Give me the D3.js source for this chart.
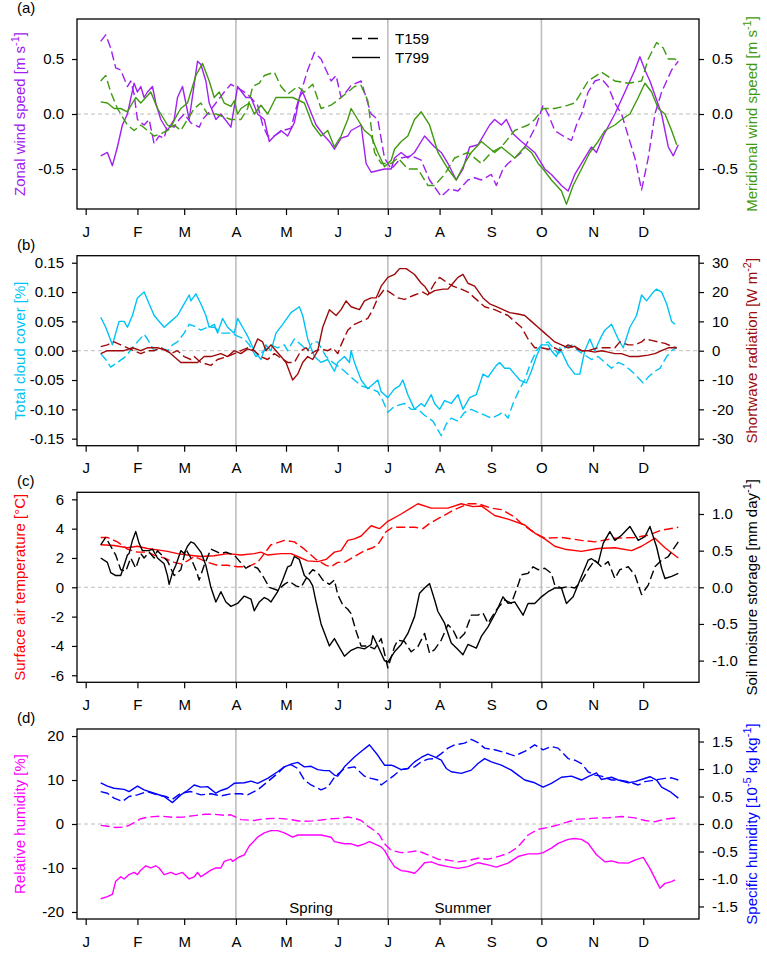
<!DOCTYPE html>
<html>
<head>
<meta charset="utf-8">
<script src="https://cdn.jsdelivr.net/npm/d3@7"></script>
<style>
body { margin: 0; background: #fff; }
svg { display: block; }
text { font-family: "Liberation Sans", Arial, Helvetica, sans-serif; }
</style>
</head>
<body>
<script>
// month ticks (day of year) and season separators
var monthDays = [0, 31, 59, 90, 120, 151, 181, 212, 243, 273, 304, 334];
var monthLabels = ["J", "F", "M", "A", "M", "J", "J", "A", "S", "O", "N", "D"];
var seasonDays = [90, 181, 273];
var seasonNames = [["Spring", 135], ["Summer", 226]];

// (a) zonal / meridional wind speed difference [m s-1], [day, value]
var zonalT159 = [[9,0.66],[12,0.72],[15,0.6],[18,0.42],[21,0.4],[25,0.25],[27,0.3],[29,0.18],[31,-0.05],[35,-0.1],[38,-0.05],[41,-0.27],[44,-0.2],[47,-0.22],[49,-0.1],[53,-0.12],[56,-0.05],[59,0.0],[63,-0.08],[68,-0.12],[70,-0.05],[73,0.0],[78,0.1],[83,0.2],[87,0.27],[93,0.22],[97,0.18],[103,0.08],[106,-0.1],[109,-0.2],[113,-0.2],[118,-0.15],[123,-0.13],[126,0.05],[129,0.2],[133,0.4],[137,0.56],[141,0.5],[144,0.4],[147,0.3],[150,0.35],[153,0.15],[156,0.2],[159,0.26],[165,0.3],[168,0.15],[171,0.0],[175,-0.05],[179,-0.4],[183,-0.5],[186,-0.45],[189,-0.4],[195,-0.38],[201,-0.42],[206,-0.6],[213,-0.75],[218,-0.68],[223,-0.7],[229,-0.6],[233,-0.58],[237,-0.6],[243,-0.55],[246,-0.65],[250,-0.5],[253,-0.45],[257,-0.4],[261,-0.35],[265,-0.25],[270,-0.1],[274,0.08],[277,0.0],[281,-0.15],[286,-0.2],[291,-0.24],[294,-0.1],[297,0.0],[301,0.2],[305,0.3],[309,0.32],[313,0.25],[317,0.1],[321,0.0],[325,-0.2],[329,-0.4],[333,-0.69],[337,-0.4],[341,0.0],[345,0.2],[351,0.4],[355,0.48]];
var zonalT799 = [[9,-0.38],[13,-0.35],[16,-0.47],[19,-0.3],[22,-0.1],[25,0.0],[29,0.28],[31,0.2],[33,0.25],[35,0.15],[37,0.2],[40,0.25],[42,0.1],[45,-0.05],[49,-0.15],[53,-0.05],[55,0.15],[58,0.25],[60,0.1],[62,-0.05],[67,0.48],[69,0.45],[72,0.3],[74,0.1],[78,-0.05],[81,0.0],[87,-0.12],[91,0.25],[96,0.15],[99,0.15],[103,0.0],[107,-0.05],[110,-0.25],[113,-0.2],[117,-0.15],[121,-0.2],[125,-0.08],[128,0.15],[130,0.2],[134,0.05],[138,-0.1],[143,-0.2],[146,-0.25],[149,-0.32],[153,-0.22],[157,-0.2],[159,-0.15],[165,-0.1],[168,-0.45],[171,-0.53],[179,-0.5],[183,-0.5],[185,-0.4],[189,-0.35],[193,-0.4],[197,-0.35],[203,-0.2],[209,-0.3],[213,-0.35],[217,-0.45],[222,-0.6],[226,-0.5],[230,-0.3],[235,-0.28],[242,-0.1],[245,-0.05],[249,-0.1],[252,-0.05],[256,-0.18],[261,-0.25],[265,-0.3],[269,-0.35],[275,-0.5],[279,-0.55],[285,-0.65],[289,-0.7],[293,-0.55],[297,-0.45],[303,-0.3],[306,-0.35],[310,-0.2],[317,0.0],[323,0.2],[329,0.4],[332,0.52],[335,0.4],[338,0.3],[345,0.0],[349,-0.3],[352,-0.38],[355,-0.28]];
var meridT159 = [[9,0.3],[12,0.35],[15,0.2],[19,0.05],[25,-0.1],[29,-0.15],[33,-0.1],[41,-0.2],[45,-0.18],[49,-0.15],[53,-0.1],[57,-0.15],[61,-0.05],[65,0.05],[69,0.1],[73,0.0],[78,0.0],[87,-0.05],[93,-0.05],[97,0.05],[100,0.25],[104,0.28],[107,0.35],[113,0.38],[117,0.25],[121,0.18],[127,0.25],[131,0.2],[136,0.27],[141,0.05],[147,0.08],[153,0.15],[161,0.25],[165,0.26],[169,0.12],[173,-0.35],[177,-0.45],[183,-0.45],[187,-0.4],[193,-0.5],[199,-0.5],[205,-0.65],[209,-0.65],[215,-0.55],[221,-0.4],[229,-0.35],[237,-0.45],[243,-0.35],[249,-0.3],[257,-0.15],[265,-0.1],[269,-0.05],[274,0.05],[281,0.05],[289,0.08],[293,0.1],[301,0.3],[309,0.38],[317,0.3],[325,0.28],[333,0.3],[337,0.5],[342,0.65],[346,0.6],[349,0.5],[353,0.5],[355,0.48]];
var meridT799 = [[9,0.11],[13,0.1],[17,0.05],[21,0.05],[25,0.02],[28,0.1],[30,0.15],[33,0.1],[39,0.2],[43,0.05],[49,-0.1],[51,-0.12],[55,0.0],[57,0.05],[61,0.1],[66,0.35],[70,0.46],[74,0.3],[77,0.15],[80,0.2],[83,0.1],[87,0.07],[89,0.12],[91,0.0],[93,0.05],[98,0.1],[101,0.0],[105,0.08],[109,0.0],[114,0.15],[119,0.15],[124,0.15],[131,0.1],[136,-0.1],[141,-0.2],[145,-0.15],[149,-0.3],[153,-0.2],[157,-0.05],[159,0.05],[163,-0.05],[167,-0.15],[171,-0.2],[175,-0.35],[179,-0.48],[183,-0.42],[185,-0.32],[189,-0.25],[193,-0.2],[197,-0.05],[201,0.02],[206,-0.1],[211,-0.35],[217,-0.5],[222,-0.6],[227,-0.45],[231,-0.35],[237,-0.25],[241,-0.3],[245,-0.35],[249,-0.3],[257,-0.4],[263,-0.3],[267,-0.35],[271,-0.45],[274,-0.5],[279,-0.6],[285,-0.7],[288,-0.82],[292,-0.65],[297,-0.5],[302,-0.35],[307,-0.25],[311,-0.15],[317,-0.1],[321,-0.05],[326,0.0],[331,0.15],[335,0.28],[339,0.2],[343,0.05],[347,0.0],[351,-0.15],[354,-0.28]];

// (b) total cloud cover [%] and shortwave radiation [W m-2]
var cloudT159 = [[9,-0.005],[12,-0.015],[15,-0.028],[19,-0.02],[24,-0.01],[28,0.005],[31,0.015],[35,0.028],[37,0.02],[41,0.0],[45,0.005],[49,0.0],[52,0.01],[55,0.015],[59,0.03],[62,0.045],[65,0.042],[69,0.035],[73,0.04],[77,0.04],[81,0.03],[87,0.03],[91,0.025],[95,0.02],[98,0.01],[102,-0.01],[107,0.0],[111,0.01],[115,0.005],[119,0.01],[121,0.0],[124,0.015],[125,0.02],[129,0.01],[133,0.0],[136,0.015],[139,0.015],[144,-0.01],[148,-0.02],[153,-0.03],[161,-0.05],[165,-0.06],[171,-0.065],[175,-0.07],[178,-0.085],[181,-0.105],[185,-0.095],[191,-0.09],[195,-0.1],[199,-0.1],[203,-0.11],[208,-0.12],[211,-0.135],[213,-0.145],[216,-0.125],[219,-0.115],[223,-0.12],[227,-0.105],[231,-0.1],[235,-0.105],[239,-0.11],[243,-0.115],[247,-0.11],[250,-0.105],[253,-0.115],[256,-0.09],[260,-0.065],[263,-0.05],[266,-0.025],[270,0.0],[273,0.01],[277,0.015],[280,0.005],[283,-0.005],[287,0.005],[292,0.01],[295,0.0],[303,-0.015],[307,-0.01],[311,-0.02],[315,-0.03],[319,-0.02],[323,-0.025],[329,-0.04],[334,-0.055],[337,-0.045],[341,-0.035],[344,-0.03],[348,-0.01],[351,0.0],[354,0.005]];
var cloudT799 = [[9,0.057],[12,0.04],[16,0.01],[20,0.05],[23,0.05],[25,0.04],[28,0.06],[31,0.09],[35,0.1],[38,0.08],[41,0.06],[47,0.04],[51,0.05],[55,0.06],[59,0.08],[62,0.095],[63,0.085],[66,0.097],[69,0.08],[72,0.06],[74,0.04],[77,0.045],[79,0.03],[82,0.055],[85,0.04],[89,0.03],[91,0.055],[94,0.04],[97,0.025],[101,0.0],[105,-0.015],[108,0.01],[111,0.0],[114,0.03],[118,0.045],[123,0.065],[128,0.075],[130,0.06],[133,0.02],[137,-0.01],[141,-0.02],[145,-0.015],[149,-0.035],[151,-0.02],[155,-0.01],[158,-0.02],[159,0.0],[161,-0.02],[165,-0.05],[169,-0.065],[175,-0.05],[177,-0.07],[181,-0.08],[185,-0.065],[188,-0.06],[190,-0.05],[193,-0.075],[197,-0.1],[201,-0.09],[203,-0.095],[207,-0.075],[209,-0.09],[212,-0.1],[215,-0.085],[219,-0.09],[223,-0.075],[226,-0.1],[230,-0.08],[234,-0.075],[238,-0.04],[241,-0.045],[246,-0.025],[248,-0.02],[251,-0.03],[254,-0.03],[257,-0.04],[260,-0.05],[264,-0.055],[267,-0.035],[270,-0.01],[273,0.01],[277,0.01],[279,0.0],[282,-0.01],[284,0.005],[289,-0.025],[293,-0.04],[296,-0.04],[299,0.0],[302,0.02],[305,0.0],[309,0.025],[311,0.035],[315,0.045],[319,0.02],[322,0.005],[326,0.04],[330,0.06],[333,0.095],[336,0.085],[340,0.1],[342,0.105],[345,0.1],[348,0.08],[351,0.05],[353,0.045]];
var swT159 = [[9,1.4],[13,2],[17,3],[21,2],[25,1],[29,0],[33,-1],[37,0],[41,0],[45,1],[51,-1],[55,0],[59,-2],[63,-3],[65,-2],[69,-4],[75,-5],[79,-3],[85,-2],[89,-1],[93,0],[97,1],[101,0],[105,-2],[109,-3],[113,-1],[121,-4],[125,-4],[129,0],[132,1],[135,-1],[138,0],[141,0.6],[145,0],[148,1],[151,-1],[153,2],[157,7],[161,9],[165,10],[169,11],[172,14],[175,18],[179,21],[182,20],[187,18],[191,17.5],[197,19],[202,20],[205,19],[209,23],[212,25],[217,23],[220,22],[225,21],[229,20],[235,17],[239,15],[245,14],[249,13],[253,12],[257,10],[261,8],[265,4],[269,1],[273,1],[277,0.5],[281,1],[284,0],[289,2],[293,1],[297,0],[301,0],[307,1],[313,1],[317,1],[320,3],[325,2],[329,2],[333,3],[335,4],[339,3.5],[343,3],[347,2.5],[351,1.5],[354,1]];
var swT799 = [[9,-1],[13,0],[18,0],[23,0],[28,1],[33,0],[37,1],[43,1],[49,0],[57,-4],[61,-4],[67,-4],[71,-2],[75,-2],[81,-1],[85,-2],[89,0],[93,-1],[97,0.6],[100,0],[103,4],[106,3],[108,0],[111,2],[114,0],[117,-2],[120,-4],[124,-10],[127,-8],[130,-4],[133,-2],[136,-3],[139,0],[142,8],[146,14],[150,12],[153,14],[156,17],[159,15],[164,14],[167,17],[171,18],[174,18],[177,22],[181,25],[185,26],[188,28],[192,28],[197,26],[201,23],[203,22],[206,19.5],[209,20.5],[214,21],[217,21],[220,23],[223,25],[226,26],[229,23],[233,22],[238,18],[242,16],[246,15],[250,14],[254,13],[259,12.5],[263,12],[267,10],[271,8],[275,6],[278,4.5],[281,3],[285,2],[289,1],[293,1.5],[297,0],[301,0],[305,-0.5],[309,0],[313,-0.5],[317,-1],[321,-1],[326,-2],[331,-2],[337,-1.5],[341,-1],[345,0],[349,1],[354,1]];

// (c) surface air temperature [degC] and soil moisture storage [mm day-1]
var tempT159 = [[9,3.4],[13,3.4],[19,3.1],[25,2.6],[31,2.4],[37,2.4],[41,2.2],[47,2.0],[53,1.7],[57,1.6],[61,1.8],[65,2.1],[69,1.9],[73,1.7],[79,1.5],[85,1.5],[91,1.4],[97,1.4],[103,1.7],[107,2.3],[111,2.9],[119,3.2],[125,3.1],[131,2.6],[135,2.2],[138,1.9],[144,1.5],[147,1.4],[151,1.7],[155,1.7],[161,2.1],[167,2.5],[172,2.7],[175,2.9],[180,3.8],[184,4.1],[189,4.1],[197,4.1],[202,4.0],[206,4.35],[213,4.8],[221,5.3],[229,5.7],[235,5.7],[243,5.4],[249,5.3],[257,4.8],[261,4.35],[269,3.7],[275,3.35],[285,3.4],[297,3.2],[305,3.1],[317,3.35],[329,3.4],[337,3.55],[345,3.9],[353,4.05],[355,4.1]];
var tempT799 = [[9,2.9],[17,2.85],[25,2.7],[31,2.8],[37,2.65],[43,2.55],[49,2.45],[55,2.3],[61,2.2],[69,2.1],[77,2.15],[85,2.3],[93,2.2],[101,2.3],[105,2.4],[109,2.2],[117,2.3],[123,2.3],[127,2.1],[133,1.8],[139,1.75],[144,1.9],[149,2.4],[153,2.5],[157,3.2],[161,3.3],[165,3.5],[171,4.2],[176,4.0],[181,4.5],[189,5.0],[199,5.7],[207,5.4],[217,5.4],[225,5.7],[232,5.5],[237,5.55],[245,4.9],[253,4.65],[263,4.25],[269,3.7],[275,3.3],[281,2.8],[287,2.6],[297,2.45],[307,2.65],[317,2.7],[327,2.5],[333,2.8],[341,3.35],[347,2.7],[355,2.0]];
var soilT159 = [[9,0.58],[12,0.68],[15,0.56],[18,0.44],[21,0.24],[24,0.22],[27,0.4],[30,0.26],[33,0.46],[35,0.4],[38,0.48],[41,0.4],[43,0.5],[49,0.36],[53,0.16],[57,0.24],[60,0.52],[63,0.4],[66,0.24],[68,0.1],[71,0.3],[75,0.52],[81,0.46],[84,0.48],[89,0.44],[92,0.36],[96,0.26],[99,0.3],[103,0.26],[106,0.16],[110,0.0],[115,-0.04],[119,0.04],[122,0.08],[126,0.02],[129,0.0],[133,0.16],[136,0.24],[139,0.2],[142,0.1],[146,0.04],[149,0.1],[151,-0.1],[154,-0.24],[157,-0.3],[159,-0.36],[162,-0.6],[165,-0.8],[169,-0.8],[173,-0.84],[177,-0.7],[179,-0.9],[181,-1.1],[185,-0.81],[187,-0.72],[191,-0.74],[195,-0.88],[199,-0.81],[203,-0.63],[206,-0.9],[209,-0.85],[213,-0.72],[217,-0.51],[220,-0.58],[223,-0.72],[227,-0.63],[231,-0.38],[235,-0.38],[238,-0.35],[241,-0.49],[246,-0.31],[251,-0.17],[255,-0.22],[259,0.03],[261,0.17],[265,0.19],[268,0.28],[271,0.24],[275,0.26],[279,0.19],[281,0.03],[285,-0.01],[289,0.01],[293,-0.01],[297,0.08],[301,0.24],[305,0.37],[309,0.28],[313,0.35],[317,0.12],[320,0.24],[325,0.28],[329,0.17],[333,-0.1],[337,0.03],[341,0.28],[345,0.37],[349,0.42],[355,0.62]];
var soilT799 = [[9,0.4],[13,0.34],[15,0.2],[18,0.16],[21,0.16],[23,0.3],[25,0.44],[26,0.46],[28,0.64],[30,0.76],[32,0.6],[34,0.5],[38,0.5],[40,0.52],[43,0.4],[47,0.32],[49,0.16],[50,0.04],[52,0.2],[54,0.3],[57,0.5],[59,0.46],[61,0.56],[63,0.62],[65,0.6],[69,0.48],[72,0.3],[75,0.0],[78,-0.2],[81,-0.06],[84,-0.2],[87,-0.26],[91,-0.22],[95,-0.12],[99,-0.16],[101,-0.32],[104,-0.2],[107,-0.14],[109,-0.16],[111,-0.2],[115,-0.06],[118,0.1],[121,0.28],[123,0.3],[125,0.42],[128,0.38],[131,0.16],[134,0.1],[136,0.02],[138,-0.2],[141,-0.5],[146,-0.8],[149,-0.7],[153,-0.86],[155,-0.94],[159,-0.86],[163,-0.82],[167,-0.84],[171,-0.78],[172,-0.66],[175,-0.8],[179,-1.0],[181,-1.02],[185,-0.88],[189,-0.78],[193,-0.63],[197,-0.4],[200,-0.08],[203,-0.01],[206,0.05],[209,-0.17],[211,-0.33],[215,-0.49],[219,-0.76],[223,-0.85],[226,-0.92],[229,-0.78],[234,-0.83],[237,-0.67],[241,-0.54],[246,-0.33],[250,-0.13],[253,-0.22],[257,-0.2],[262,-0.38],[265,-0.22],[269,-0.22],[273,-0.13],[277,-0.06],[281,-0.01],[285,-0.01],[288,-0.22],[292,-0.13],[297,0.15],[301,0.37],[303,0.39],[307,0.33],[310,0.6],[314,0.76],[317,0.64],[321,0.71],[326,0.83],[331,0.64],[335,0.69],[338,0.83],[342,0.55],[345,0.26],[347,0.12],[351,0.15],[355,0.19]];

// (d) relative humidity [%] and specific humidity [1e-5 kg kg-1]
var rhT159 = [[9,-0.3],[13,-0.5],[18,-0.8],[23,-0.7],[26,-0.3],[29,0.3],[33,1.2],[38,1.6],[45,1.8],[53,1.5],[59,1.6],[65,1.9],[71,2.2],[77,2.2],[83,2.0],[87,2.1],[93,1.0],[101,0.8],[107,1.2],[115,1.3],[121,1.1],[129,0.6],[136,0.7],[141,0.9],[147,1.2],[153,1.3],[157,1.6],[161,1.3],[165,0.8],[169,-0.5],[173,-1.5],[176,-2.5],[179,-4.5],[183,-6.0],[189,-6.5],[193,-6.4],[199,-6.1],[205,-7.0],[211,-8.0],[217,-8.2],[223,-8.6],[229,-8.3],[235,-7.8],[241,-8.0],[247,-7.4],[253,-6.7],[259,-5.2],[265,-2.5],[271,-1.2],[277,-0.8],[283,-0.2],[289,0.5],[295,1.1],[301,1.2],[307,1.4],[313,1.4],[321,1.7],[329,1.4],[335,0.8],[341,0.5],[347,1.1],[354,1.4]];
var rhT799 = [[9,-17],[13,-16.5],[16,-16],[18,-13],[21,-12],[23,-12.5],[26,-11.5],[29,-11],[31,-11.5],[33,-10.5],[36,-9.5],[39,-10],[42,-9.5],[44,-10],[47,-11.5],[51,-11],[54,-11.5],[58,-11],[62,-12.5],[65,-12],[67,-11],[69,-12],[71,-11.5],[75,-10.5],[78,-10],[81,-10],[83,-8.5],[87,-8],[88,-8.5],[92,-7.5],[95,-7],[98,-5],[103,-3],[107,-2],[111,-1.5],[115,-1.5],[119,-2],[124,-3],[127,-2.5],[131,-2.5],[137,-2.5],[141,-2.5],[147,-3],[149,-4],[155,-4.5],[159,-4.5],[163,-5],[167,-4.5],[170,-4],[173,-4.5],[177,-5.2],[179,-6],[182,-8],[185,-9.7],[189,-10.6],[193,-10.8],[197,-11.2],[199,-10.5],[203,-8.8],[207,-8.6],[211,-9.2],[217,-9.7],[223,-10.1],[229,-9.7],[235,-8.8],[241,-9.3],[246,-9.8],[253,-8.9],[259,-7.4],[265,-6.8],[271,-6.8],[274,-6.5],[279,-5.5],[283,-4.4],[289,-3.5],[293,-3.3],[297,-3.5],[301,-4.4],[306,-7.0],[311,-8.6],[315,-8.4],[319,-8.8],[325,-8.9],[329,-8.2],[334,-7.6],[338,-10.1],[342,-13.1],[344,-14.6],[347,-13.5],[351,-13.1],[353,-12.7]];
var shT159 = [[9,0.59],[13,0.56],[17,0.47],[22,0.41],[26,0.5],[31,0.53],[37,0.59],[43,0.53],[48,0.5],[52,0.45],[57,0.56],[63,0.59],[69,0.53],[75,0.55],[81,0.51],[87,0.55],[93,0.55],[97,0.53],[103,0.62],[109,0.77],[115,0.92],[119,1.04],[123,1.08],[127,1.01],[131,0.8],[135,0.71],[141,0.62],[145,0.67],[149,0.85],[155,1.01],[161,1.04],[167,0.87],[171,0.83],[175,0.8],[177,0.71],[181,0.8],[185,0.89],[189,0.99],[193,1.01],[197,1.04],[201,1.13],[205,1.18],[209,1.19],[213,1.28],[217,1.38],[221,1.44],[227,1.47],[231,1.54],[235,1.48],[239,1.38],[245,1.35],[251,1.3],[257,1.24],[263,1.32],[269,1.44],[274,1.35],[279,1.41],[283,1.38],[289,1.19],[293,1.16],[297,1.1],[301,0.95],[305,0.89],[309,0.87],[315,0.8],[319,0.8],[325,0.77],[331,0.71],[335,0.77],[341,0.8],[347,0.83],[351,0.84],[355,0.8]];
var shT799 = [[9,0.75],[13,0.69],[17,0.65],[23,0.63],[26,0.59],[31,0.69],[35,0.62],[41,0.56],[47,0.5],[52,0.39],[57,0.53],[61,0.61],[65,0.71],[69,0.67],[73,0.68],[78,0.56],[81,0.61],[85,0.65],[89,0.74],[95,0.75],[99,0.78],[103,0.74],[109,0.83],[115,0.95],[119,1.04],[123,1.09],[127,1.12],[131,1.04],[135,1.05],[139,0.99],[143,0.97],[146,0.97],[149,0.89],[151,0.87],[155,1.04],[161,1.22],[165,1.32],[170,1.44],[175,1.25],[179,1.07],[183,1.07],[185,1.05],[189,0.99],[193,1.01],[197,1.13],[201,1.21],[205,1.27],[209,1.22],[213,1.16],[216,1.01],[219,0.95],[225,0.92],[231,0.98],[235,1.1],[239,1.19],[243,1.13],[249,1.07],[255,0.98],[259,0.89],[263,0.8],[269,0.75],[274,0.67],[279,0.74],[285,0.85],[291,0.87],[297,0.8],[301,0.86],[306,0.93],[309,0.81],[315,0.85],[319,0.8],[325,0.75],[329,0.77],[333,0.81],[338,0.86],[342,0.8],[345,0.67],[350,0.59],[355,0.47]];

var w = 767, h = 962;
var boxH = 190;
var dashed = "9,4";
var fs = "15px";

var svg = d3.select("body").append("svg")
    .attr("width", w)
    .attr("height", h);

var x = d3.scaleLinear().domain([-5.2, 367.4]).range([77, 699]);

function fmt(n) {
    return function(d) { return d.toFixed(n); };
}

// rotated axis title; parts alternate normal text / superscript
function addTitle(g, parts, cx, cy, color) {
    var t = g.append("text")
        .attr("transform", "translate(" + cx + "," + cy + ") rotate(-90)")
        .attr("text-anchor", "middle")
        .attr("font-size", fs)
        .attr("fill", color);
    parts.forEach(function(s, k) {
        if (k % 2 === 0) {
            t.append("tspan").attr("dy", k ? 6 : 0).text(s);
        } else {
            t.append("tspan").attr("font-size", "11px").attr("dy", -6).text(s);
        }
    });
}

var panels = [
    {
        letter: "(a)", top: 19,
        yL: [-0.864, 0.864], ticksL: [-0.5, 0, 0.5], fmtL: fmt(1),
        yR: [-0.864, 0.864], ticksR: [-0.5, 0, 0.5], fmtR: fmt(1),
        titleL: ["Zonal wind speed [m s", "-1", "]"], colorL: "#a020f0",
        titleR: ["Meridional wind speed [m s", "-1", "]"], colorR: "#3f9a0e",
        series: [
            {data: zonalT159, side: "L", dash: true},
            {data: zonalT799, side: "L", dash: false},
            {data: meridT159, side: "R", dash: true},
            {data: meridT799, side: "R", dash: false}
        ]
    },
    {
        letter: "(b)", top: 255.7,
        yL: [-0.162, 0.162], ticksL: [-0.15, -0.1, -0.05, 0, 0.05, 0.1, 0.15], fmtL: fmt(2),
        yR: [-32.4, 32.4], ticksR: [-30, -20, -10, 0, 10, 20, 30], fmtR: fmt(0),
        titleL: ["Total cloud cover [%]"], colorL: "#00c3f5",
        titleR: ["Shortwave radiation [W m", "-2", "]"], colorR: "#9e0a0a",
        series: [
            {data: cloudT159, side: "L", dash: true},
            {data: cloudT799, side: "L", dash: false},
            {data: swT159, side: "R", dash: true},
            {data: swT799, side: "R", dash: false}
        ]
    },
    {
        letter: "(c)", top: 492.3,
        yL: [-6.48, 6.48], ticksL: [-6, -4, -2, 0, 2, 4, 6], fmtL: fmt(0),
        yR: [-1.296, 1.296], ticksR: [-1, -0.5, 0, 0.5, 1], fmtR: fmt(1),
        titleL: ["Surface air temperature [\u00b0C]"], colorL: "#ff0000",
        titleR: ["Soil moisture storage [mm day", "-1", "]"], colorR: "#000000",
        series: [
            {data: tempT159, side: "L", dash: true},
            {data: tempT799, side: "L", dash: false},
            {data: soilT159, side: "R", dash: true},
            {data: soilT799, side: "R", dash: false}
        ]
    },
    {
        letter: "(d)", top: 729,
        yL: [-21.6, 21.6], ticksL: [-20, -10, 0, 10, 20], fmtL: fmt(0),
        yR: [-1.728, 1.728], ticksR: [-1.5, -1, -0.5, 0, 0.5, 1, 1.5], fmtR: fmt(1),
        titleL: ["Relative humidity [%]"], colorL: "#ff00ff",
        titleR: ["Specific humidity [10", "-5", " kg kg", "-1", "]"], colorR: "#0000ff",
        series: [
            {data: rhT159, side: "L", dash: true},
            {data: rhT799, side: "L", dash: false},
            {data: shT159, side: "R", dash: true},
            {data: shT799, side: "R", dash: false}
        ]
    }
];

panels.forEach(function(p, i) {
    var top = p.top, bottom = p.top + boxH;
    var yL = d3.scaleLinear().domain(p.yL).range([bottom, top]);
    var yR = d3.scaleLinear().domain(p.yR).range([bottom, top]);
    var g = svg.append("g");

    g.append("clipPath").attr("id", "clip" + i)
        .append("rect")
        .attr("x", 77).attr("y", top)
        .attr("width", 622).attr("height", boxH);

    // season separators
    g.selectAll(".season").data(seasonDays).enter()
        .append("line")
        .attr("x1", function(d) { return x(d); })
        .attr("x2", function(d) { return x(d); })
        .attr("y1", top).attr("y2", bottom)
        .style("stroke", "#bebebe")
        .style("stroke-width", 1.6);

    // zero line
    g.append("line")
        .attr("x1", 77).attr("x2", 699)
        .attr("y1", yL(0)).attr("y2", yL(0))
        .style("stroke", "#bebebe")
        .style("stroke-width", 1)
        .style("stroke-dasharray", "4,3");

    var plot = g.append("g").attr("clip-path", "url(#clip" + i + ")");
    p.series.forEach(function(s) {
        var yy = s.side === "L" ? yL : yR;
        var line = d3.line()
            .x(function(d) { return x(d[0]); })
            .y(function(d) { return yy(d[1]); });
        plot.append("path")
            .datum(s.data)
            .attr("d", line)
            .style("fill", "none")
            .style("stroke", s.side === "L" ? p.colorL : p.colorR)
            .style("stroke-width", 1.4)
            .style("stroke-linejoin", "round")
            .style("stroke-dasharray", s.dash ? dashed : null);
    });

    // box
    g.append("rect")
        .attr("x", 77).attr("y", top)
        .attr("width", 622).attr("height", boxH)
        .style("fill", "none")
        .style("stroke", "#000")
        .style("stroke-width", 1.3);

    // axes
    var axL = g.append("g").attr("transform", "translate(77,0)")
        .call(d3.axisLeft(yL).tickValues(p.ticksL).tickFormat(p.fmtL).tickSize(5).tickPadding(8));
    var axR = g.append("g").attr("transform", "translate(699,0)")
        .call(d3.axisRight(yR).tickValues(p.ticksR).tickFormat(p.fmtR).tickSize(5).tickPadding(8));
    var axB = g.append("g").attr("transform", "translate(0," + bottom + ")")
        .call(d3.axisBottom(x).tickValues(monthDays)
            .tickFormat(function(d, k) { return monthLabels[k]; })
            .tickSize(6).tickPadding(11));
    [axL, axR, axB].forEach(function(a) {
        a.select(".domain").remove();
        a.selectAll("line").style("stroke", "#000").style("stroke-width", 1.2);
        a.selectAll("text").attr("font-size", fs).attr("fill", "#000")
            .style("font-family", "'Liberation Sans', Arial, Helvetica, sans-serif");
    });

    // panel letter
    g.append("text")
        .attr("x", 17).attr("y", top - 6)
        .attr("font-size", fs)
        .text(p.letter);

    addTitle(g, p.titleL, 25, top + boxH / 2, p.colorL);
    addTitle(g, p.titleR, 757, top + boxH / 2, p.colorR);

    if (i === 0) {
        // legend
        var leg = g.append("g");
        [["T159", true, 38.5], ["T799", false, 57.5]].forEach(function(e) {
            leg.append("line")
                .attr("x1", 352).attr("x2", 380)
                .attr("y1", e[2]).attr("y2", e[2])
                .style("stroke", "#000")
                .style("stroke-width", 1.4)
                .style("stroke-dasharray", e[1] ? "10,6" : null);
            leg.append("text")
                .attr("x", 395).attr("y", e[2] + 5)
                .attr("font-size", fs)
                .text(e[0]);
        });
    }

    if (i === 3) {
        g.selectAll(".seasonName").data(seasonNames).enter()
            .append("text")
            .attr("x", function(d) { return x(d[1]); })
            .attr("y", bottom - 6)
            .attr("text-anchor", "middle")
            .attr("font-size", fs)
            .text(function(d) { return d[0]; });
    }
});
</script>
</body>
</html>
